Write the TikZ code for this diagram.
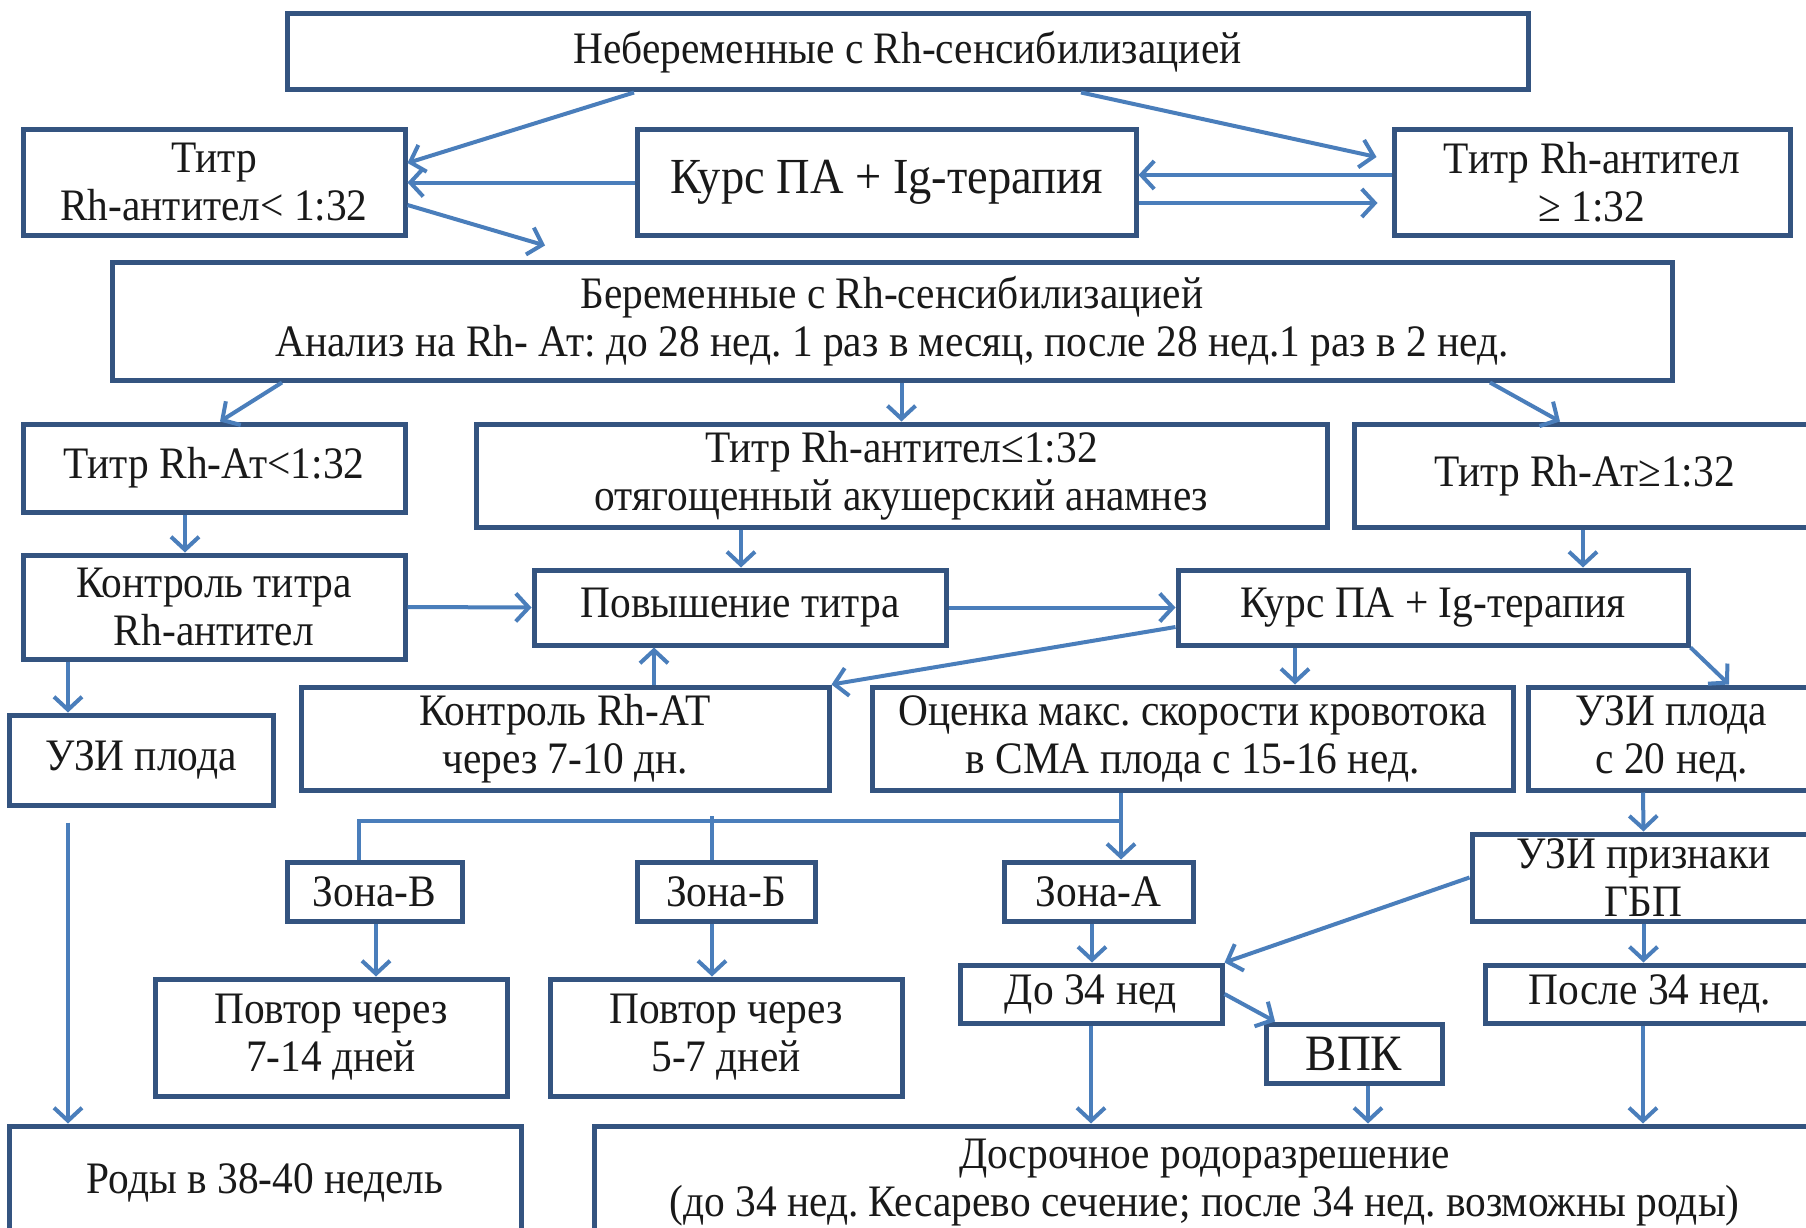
\documentclass[tikz,border=0pt]{standalone}
\usepackage{fontspec}
\setmainfont{Liberation Serif}[FakeStretch=0.92]
\usetikzlibrary{arrows.meta}
\definecolor{boxblue}{RGB}{52,84,128}
\definecolor{arrowblue}{RGB}{74,126,187}
\definecolor{txtcol}{RGB}{25,25,25}
\tikzset{
  bx/.style={draw=boxblue, line width=5pt, fill=white, inner sep=0pt, align=center,
    text=txtcol, font=\fontsize{45}{48}\selectfont},
  arr/.style={draw=arrowblue, line width=4pt,
    -{Straight Barb[length=13pt,width=28pt,line width=4pt]}},
  ln/.style={draw=arrowblue, line width=4pt}
}
\frenchspacing
\begin{document}
\begin{tikzpicture}[x=1pt,y=-1pt]
\clip (0,0) rectangle (1806,1228);
\fill[white] (0,0) rectangle (1806,1228);

% nodes
\node[bx, minimum width=1241pt, minimum height=76pt] (box1) at (907.5,52) {Небеременные с Rh-сенсибилизацией};
\node[bx, minimum width=382pt, minimum height=105pt] (ttl) at (214,182.5) {Титр\\Rh-антител< 1:32};
\node[bx, minimum width=499pt, minimum height=105pt, font=\fontsize{50.5}{56}\selectfont] (kurs1) at (886.5,182.5) {Курс ПА + Ig-терапия};
\node[bx, minimum width=396pt, minimum height=105pt] (ttr) at (1592,182.5) {Титр Rh-антител\\≥ 1:32};
\node[bx, minimum width=1560pt, minimum height=118pt] (ber) at (892,321) {Беременные с Rh-сенсибилизацией\\Анализ на Rh- Ат: до 28 нед. 1 раз в месяц, после 28 нед.1 раз в 2 нед.};
\node[bx, minimum width=382pt, minimum height=88pt] (tt2l) at (214,468) {Титр Rh-Ат<1:32};
\node[bx, minimum width=851pt, minimum height=103pt] (tt2m) at (901.5,475.5) {Титр Rh-антител≤1:32\\отягощенный акушерский анамнез};
\node[bx, minimum width=461pt, minimum height=103pt] (tt2r) at (1584.5,475.5) {Титр Rh-Ат≥1:32};
\node[bx, minimum width=382pt, minimum height=104pt] (kontrol) at (214,607) {Контроль титра\\Rh-антител};
\node[bx, minimum width=412pt, minimum height=75pt] (povysh) at (740,607.5) {Повышение титра};
\node[bx, minimum width=510pt, minimum height=75pt] (kurs2) at (1433,607.5) {Курс ПА + Ig-терапия};
\node[bx, minimum width=264pt, minimum height=90pt] (uziL) at (141,760) {УЗИ плода};
\node[bx, minimum width=528pt, minimum height=103pt] (krh) at (565,738.5) {Контроль Rh-АТ\\через 7-10 дн.};
\node[bx, minimum width=641pt, minimum height=103pt] (ocenka) at (1192.5,738.5) {Оценка макс. скорости кровотока\\в СМА плода с 15-16 нед.};
\node[bx, minimum width=287pt, minimum height=103pt] (uzi20) at (1671.5,738.5) {УЗИ плода\\с 20 нед.};
\node[bx, minimum width=175pt, minimum height=59pt] (zonaV) at (374.5,891.5) {Зона-В};
\node[bx, minimum width=178pt, minimum height=59pt] (zonaB) at (726,891.5) {Зона-Б};
\node[bx, minimum width=189pt, minimum height=59pt] (zonaA) at (1098.5,891.5) {Зона-А};
\node[bx, minimum width=343pt, minimum height=87pt,
  label={[align=center, text=txtcol, font=\fontsize{45}{48}\selectfont, inner sep=0pt]center:УЗИ признаки\\ГБП}] (uziGBP) at (1643.5,877.5) {};
\node[bx, minimum width=352pt, minimum height=117pt] (povt1) at (331,1037.5) {Повтор через\\7-14 дней};
\node[bx, minimum width=352pt, minimum height=117pt] (povt2) at (726,1037.5) {Повтор через\\5-7 дней};
\node[bx, minimum width=262pt, minimum height=58pt] (do34) at (1091,994) {До 34 нед};
\node[bx, minimum width=176pt, minimum height=59pt, font=\fontsize{51}{56}\selectfont] (vpk) at (1354,1053.5) {ВПК};
\node[bx, minimum width=330pt, minimum height=58pt] (posle34) at (1650,994) {После 34 нед.};
\node[bx, minimum width=512pt, minimum height=114pt] (rody) at (265,1183) {Роды в 38-40 недель};
\node[bx, minimum width=1221pt, minimum height=114pt] (dosr) at (1204.5,1183) {Досрочное родоразрешение\\(до 34 нед. Кесарево сечение; после 34 нед. возможны роды)};

% connectors
\draw[arr] ([xshift=-273.5pt]box1.south) -- ([yshift=19.5pt]ttl.east);
\draw[arr] (kurs1.west) -- (ttl.east);
\draw[arr] ([xshift=173.5pt]box1.south) -- ([xshift=-15pt,yshift=25.5pt]ttr.west);
\draw[arr] ([yshift=7.5pt]ttr.west) -- ([yshift=7.5pt]kurs1.east);
\draw[arr] ([yshift=-20.5pt]kurs1.east) -- ([xshift=-14pt,yshift=-20.5pt]ttr.west);
\coordinate (berin) at ([xshift=-347pt,yshift=14pt]ber.north);
\draw[arr] ([yshift=-22.5pt]ttl.east) -- (berin);
\draw[arr] ([xshift=-610pt]ber.south) -- ([xshift=6pt]tt2l.north);
\draw[arr] ([xshift=9.5pt]ber.south) -- (tt2m.north);
\draw[arr] ([xshift=598pt]ber.south) -- ([xshift=-24.5pt]tt2r.north);
\draw[arr] ([xshift=-29pt]tt2l.south) -- ([xshift=-29pt]kontrol.north);
\draw[arr] ([xshift=-160.5pt]tt2m.south) -- ([xshift=1pt]povysh.north);
\draw[arr] ([xshift=-1.5pt]tt2r.south) -- ([xshift=150pt]kurs2.north);
\draw[arr] (kontrol.east) -- (povysh.west);
\draw[arr] (povysh.east) -- (kurs2.west);
\draw[arr] ([yshift=-19.5pt]kurs2.west) -- (krh.north east);
\draw[arr] ([xshift=89pt]krh.north) -- ([xshift=-86pt]povysh.south);
\draw[arr] ([xshift=-138pt]kurs2.south) -- ([xshift=102.5pt]ocenka.north);
\draw[arr] (kurs2.south east) -- ([xshift=57.5pt]uzi20.north);
\draw[arr] ([xshift=-146pt]kontrol.south) -- ([xshift=-73pt]uziL.north);
\draw[arr] ([xshift=-73pt,yshift=-15pt]uziL.south) -- ([xshift=-197pt]rody.north);
% bus from ocenka
\draw[arr] ([xshift=-71.5pt]ocenka.south) -- ([xshift=22.5pt]zonaA.north);
\draw[ln] ([xshift=-15.5pt]zonaV.north) |- ([xshift=-71.5pt,yshift=-28pt]ocenka.south);
\draw[ln] ([xshift=-14pt]zonaB.north) -- ++(0,-44);
\draw[arr] ([xshift=1.5pt]zonaV.south) -- ([xshift=45pt]povt1.north);
\draw[arr] ([xshift=-14pt]zonaB.south) -- ([xshift=-14pt]povt2.north);
\draw[arr] ([xshift=-6.5pt]zonaA.south) -- ([xshift=1pt]do34.north);
\draw[arr] (uziGBP.west) -- (do34.north east);
\draw[arr] (do34.east) -- ([xshift=-79pt]vpk.north);
\draw[arr] (do34.south) -- ([xshift=-113.5pt]dosr.north);
\draw[arr] ([xshift=14pt]vpk.south) -- ([xshift=163.5pt]dosr.north);
\draw[arr] ([xshift=-7pt]posle34.south) -- ([xshift=438.5pt]dosr.north);
\draw[arr] ([xshift=-28.5pt]uzi20.south) -- (uziGBP.north);
\draw[arr] (uziGBP.south) -- ([xshift=-6.5pt]posle34.north);
\end{tikzpicture}
\end{document}
